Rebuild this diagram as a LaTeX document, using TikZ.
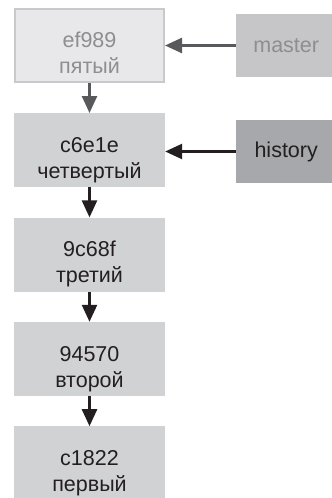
\documentclass[tikz,border=0pt]{standalone}
\usepackage{fontspec}
\setmainfont{Liberation Sans}
\usetikzlibrary{arrows.meta, positioning}
\definecolor{commitgray}{RGB}{209,210,212}
\definecolor{oldgray}{RGB}{232,232,234}
\definecolor{oldedge}{RGB}{200,201,203}
\definecolor{oldtext}{RGB}{142,142,144}
\definecolor{mastergray}{RGB}{198,198,200}
\definecolor{historygray}{RGB}{167,168,171}
\definecolor{inkdark}{RGB}{35,31,32}
\definecolor{arrowgray}{RGB}{88,89,91}

\begin{document}
\begin{tikzpicture}[
  commit/.style={fill=commitgray, text=inkdark, minimum width=151pt, minimum height=74pt,
    inner sep=0pt, align=center, text height=64pt, text depth=8pt,
    font=\fontsize{21.5}{26}\selectfont},
  oldcommit/.style={commit, fill=oldgray, draw=oldedge, line width=2pt, text=oldtext,
    minimum width=149pt, minimum height=73pt},
  branch/.style={fill=historygray, text=inkdark, minimum width=100pt, minimum height=63pt,
    inner sep=0pt, font=\fontsize{21.5}{26}\selectfont},
  link/.style={-{Triangle[length=17pt,width=15pt]}, line width=2.5pt, inkdark},
  oldlink/.style={link, arrowgray}
]
  \useasboundingbox (0pt,0pt) rectangle (332pt,-498pt);

  % commits
  \node[oldcommit] (ef989) at (89.5pt,-45.5pt) {ef989\\пятый};
  \node[commit, below=30pt of ef989] (c6e1e) {c6e1e\\четвертый};
  \node[commit, below=30pt of c6e1e] (9c68f) {9c68f\\третий};
  \node[commit, below=30pt of 9c68f] (94570) {94570\\второй};
  \node[commit, below=30pt of 94570] (c1822) {c1822\\первый};

  % branches
  \node[branch, fill=mastergray, text=oldtext, anchor=west] (master) at (236pt,-45.5pt) {master};
  \node[branch, anchor=west] (history) at (236pt,-151.5pt) {history};

  % links
  \draw[oldlink] (ef989) -- (c6e1e);
  \draw[link] (c6e1e) -- (9c68f);
  \draw[link] (9c68f) -- (94570);
  \draw[link] (94570) -- (c1822);
  \draw[oldlink] (master) -- (ef989);
  \draw[link] (history) -- (c6e1e.east |- history);
\end{tikzpicture}
\end{document}
